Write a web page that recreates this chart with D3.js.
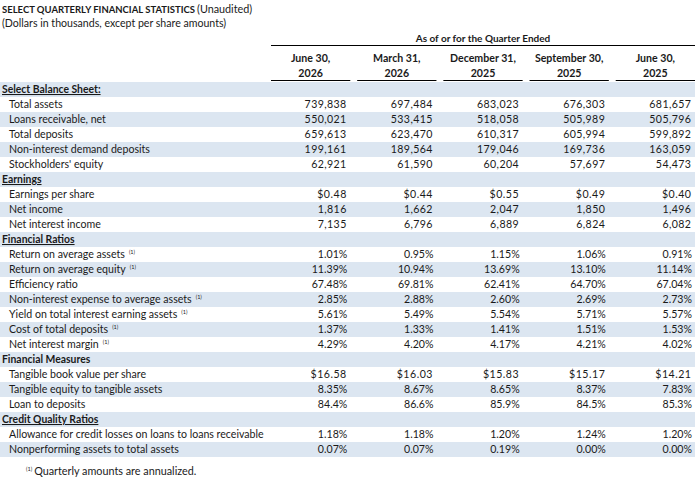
<!DOCTYPE html>
<html lang="en">
<head>
    <meta charset="UTF-8"/>
    <title>Select Quarterly Financial Statistics</title>
    <script src="https://d3js.org/d3.v7.min.js"></script>
    <style>
        body { margin: 0; background: #fff; }
        svg text { font-family: Lato, "Open Sans", sans-serif; fill: #1a1a1a; }
    </style>
</head>
<body>
<div id="table"></div>

<script>
    // column headers
    var quarterMonths = ["June 30,", "March 31,", "December 31,", "September 30,", "June 30,"];
    var quarterYears = ["2026", "2026", "2025", "2025", "2025"];

    // section headings
    var sections = ["Select Balance Sheet:", "Earnings", "Financial Ratios", "Financial Measures", "Credit Quality Ratios"];

    var balanceLabels = ["Total assets", "Loans receivable, net", "Total deposits", "Non-interest demand deposits", "Stockholders' equity"];
    var balanceValues = [
        [739838, 697484, 683023, 676303, 681657],
        [550021, 533415, 518058, 505989, 505796],
        [659613, 623470, 610317, 605994, 599892],
        [199161, 189564, 179046, 169736, 163059],
        [62921, 61590, 60204, 57697, 54473]
    ];

    var earningsLabels = ["Earnings per share", "Net income", "Net interest income"];
    var earningsValues = [
        [0.48, 0.44, 0.55, 0.49, 0.40],
        [1816, 1662, 2047, 1850, 1496],
        [7135, 6796, 6889, 6824, 6082]
    ];

    var ratioLabels = ["Return on average assets", "Return on average equity", "Efficiency ratio",
        "Non-interest expense to average assets", "Yield on total interest earning assets",
        "Cost of total deposits", "Net interest margin"];
    var ratioValues = [
        [1.01, 0.95, 1.15, 1.06, 0.91],
        [11.39, 10.94, 13.69, 13.10, 11.14],
        [67.48, 69.81, 62.41, 64.70, 67.04],
        [2.85, 2.88, 2.60, 2.69, 2.73],
        [5.61, 5.49, 5.54, 5.71, 5.57],
        [1.37, 1.33, 1.41, 1.51, 1.53],
        [4.29, 4.20, 4.17, 4.21, 4.02]
    ];
    // ratios marked (1) = annualized
    var ratioAnnualized = [true, true, false, true, true, true, true];

    var measureLabels = ["Tangible book value per share", "Tangible equity to tangible assets", "Loan to deposits"];
    var measureValues = [
        [16.58, 16.03, 15.83, 15.17, 14.21],
        [8.35, 8.67, 8.65, 8.37, 7.83],
        [84.4, 86.6, 85.9, 84.5, 85.3]
    ];

    var creditLabels = ["Allowance for credit losses on loans to loans receivable", "Nonperforming assets to total assets"];
    var creditValues = [
        [1.18, 1.18, 1.20, 1.24, 1.20],
        [0.07, 0.07, 0.19, 0.00, 0.00]
    ];

    var width = 695;
    var height = 480;

    // formats, each with the letter spacing that makes it as wide as the original
    var fmtInt = {f: d3.format(","), pct: false, ls: 0.4};
    var fmtDollar = {f: d3.format("$.2f"), pct: false, ls: 0.5};
    var fmtPct2 = {f: function (v) { return d3.format(".2f")(v) + "%"; }, pct: true, ls: 0};
    var fmtPct1 = {f: function (v) { return d3.format(".1f")(v) + "%"; }, pct: true, ls: 0};

    // build the list of rows from the arrays above
    var rows = [];
    function addSection(title, underline, labels, values, formats, notes) {
        rows.push({label: title, header: true, underline: underline});
        labels.forEach(function (l, i) {
            rows.push({label: l, values: values[i], fmt: formats[i], note: notes ? notes[i] : false});
        });
    }
    addSection(sections[0], true, balanceLabels, balanceValues, [fmtInt, fmtInt, fmtInt, fmtInt, fmtInt]);
    addSection(sections[1], true, earningsLabels, earningsValues, [fmtDollar, fmtInt, fmtInt]);
    addSection(sections[2], true, ratioLabels, ratioValues, ratioLabels.map(function () { return fmtPct2; }), ratioAnnualized);
    addSection(sections[3], false, measureLabels, measureValues, [fmtDollar, fmtPct2, fmtPct1]);
    addSection(sections[4], true, creditLabels, creditValues, [fmtPct2, fmtPct2]);

    var yScale = d3.scaleBand().domain(d3.range(rows.length)).range([81, 456]);
    var xScale = d3.scaleBand().domain(d3.range(quarterMonths.length)).range([271, 695]).paddingInner(0.08);

    var svg = d3.select("#table").append("svg").attr("width", width).attr("height", height);

    // title (bold part squeezed to the narrow width of the original)
    svg.append("text").attr("x", 2).attr("y", 13)
        .attr("textLength", 193).attr("lengthAdjust", "spacingAndGlyphs")
        .style("font-weight", "bold").style("font-size", "9.6px")
        .text("SELECT QUARTERLY FINANCIAL STATISTICS");
    svg.append("text").attr("x", 197).attr("y", 13).style("font-size", "10.8px").text("(Unaudited)");
    svg.append("text").attr("x", 2).attr("y", 27).style("font-size", "10.6px")
        .text("(Dollars in thousands, except per share amounts)");

    // group header
    svg.append("text").attr("x", (xScale(0) + xScale(4) + xScale.bandwidth()) / 2).attr("y", 42)
        .attr("text-anchor", "middle").style("font-size", "10px").style("font-weight", "bold")
        .text("As of or for the Quarter Ended");
    svg.append("line").attr("x1", xScale(0)).attr("x2", xScale(4) + xScale.bandwidth())
        .attr("y1", 45.5).attr("y2", 45.5).attr("stroke", "#000").attr("stroke-width", 1);

    var cols = svg.selectAll("g.col").data(quarterMonths).enter().append("g").attr("class", "col");
    cols.append("text").attr("x", function (d, i) { return xScale(i) + xScale.bandwidth() / 2; })
        .attr("y", 62).attr("text-anchor", "middle").style("font-size", "10.6px").style("font-weight", "bold")
        .text(function (d) { return d; });
    cols.append("text").attr("x", function (d, i) { return xScale(i) + xScale.bandwidth() / 2; })
        .attr("y", 77).attr("text-anchor", "middle").style("font-size", "10.6px").style("font-weight", "bold")
        .text(function (d, i) { return quarterYears[i]; });
    cols.append("line").attr("x1", function (d, i) { return xScale(i); })
        .attr("x2", function (d, i) { return xScale(i) + xScale.bandwidth(); })
        .attr("y1", 80.5).attr("y2", 80.5).attr("stroke", "#000").attr("stroke-width", 1);

    // row shading, alternating
    svg.selectAll("rect.band").data(rows).enter().append("rect")
        .attr("x", 0).attr("width", width)
        .attr("y", function (d, i) { return yScale(i) + 1; })
        .attr("height", yScale.bandwidth())
        .attr("fill", function (d, i) { return i % 2 === 0 ? "#dce6f1" : "#fff"; });

    var rowG = svg.selectAll("g.row").data(rows).enter().append("g")
        .attr("transform", function (d, i) { return "translate(0," + (yScale(i) + yScale.bandwidth() / 2 + 4.5) + ")"; });

    var labels = rowG.append("text")
        .attr("x", function (d) { return d.header ? 2 : 9; })
        .style("font-size", function (d) { return d.header ? "10.4px" : "10.6px"; })
        .style("font-weight", function (d) { return d.header ? "bold" : "normal"; })
        .style("text-decoration", function (d) { return d.underline ? "underline" : "none"; })
        .text(function (d) { return d.label; });

    // footnote markers
    labels.filter(function (d) { return d.note; }).append("tspan")
        .attr("dx", 4).attr("dy", -4.5).style("font-size", "5.5px").text("(1)");

    // values
    rowG.filter(function (d) { return !d.header; }).selectAll("text.val")
        .data(function (d) { return d.values.map(function (v) { return {v: v, fmt: d.fmt}; }); })
        .enter().append("text")
        .attr("x", function (d, i) {
            return xScale(i) + xScale.bandwidth() - (d.fmt.pct ? 3 : 4) + d.fmt.ls;
        })
        .attr("text-anchor", "end").style("font-size", "10.6px")
        .style("letter-spacing", function (d) { return d.fmt.ls + "px"; })
        .text(function (d) { return d.fmt.f(d.v); });

    // footnote
    var foot = svg.append("text").attr("x", 26).attr("y", 475).style("font-size", "10.8px");
    foot.append("tspan").attr("dy", -4.5).style("font-size", "5.5px").text("(1)");
    foot.append("tspan").attr("dx", 2).attr("dy", 4.5).text("Quarterly amounts are annualized.");
</script>
</body>
</html>
